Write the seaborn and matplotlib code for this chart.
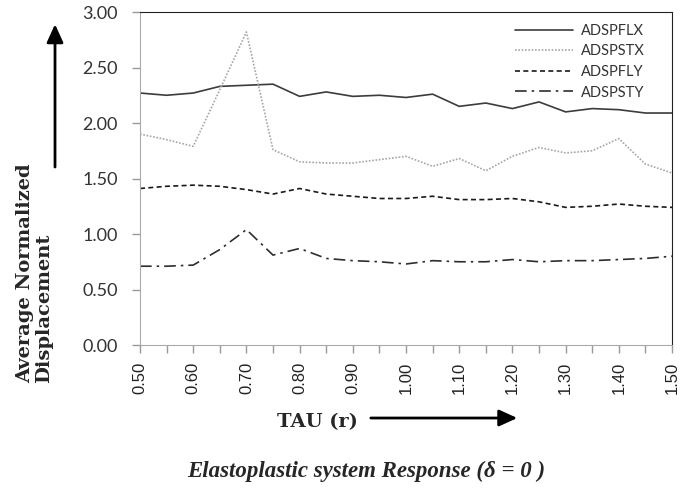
import numpy as np
import pandas as pd
import matplotlib.pyplot as plt
import seaborn as sns
from matplotlib.ticker import MultipleLocator

tau = [0.50, 0.55, 0.60, 0.65, 0.70, 0.75, 0.80, 0.85, 0.90, 0.95, 1.00,
       1.05, 1.10, 1.15, 1.20, 1.25, 1.30, 1.35, 1.40, 1.45, 1.50]
adspflx = [2.27, 2.25, 2.27, 2.33, 2.34, 2.35, 2.24, 2.28, 2.24, 2.25, 2.23,
           2.26, 2.15, 2.18, 2.13, 2.19, 2.10, 2.13, 2.12, 2.09, 2.09]
adspstx = [1.90, 1.85, 1.79, 2.30, 2.82, 1.76, 1.65, 1.64, 1.64, 1.67, 1.70,
           1.61, 1.68, 1.57, 1.70, 1.78, 1.73, 1.75, 1.86, 1.63, 1.55]
adspfly = [1.41, 1.43, 1.44, 1.43, 1.40, 1.36, 1.41, 1.36, 1.34, 1.32, 1.32,
           1.34, 1.31, 1.31, 1.32, 1.29, 1.24, 1.25, 1.27, 1.25, 1.24]
adspsty = [0.71, 0.71, 0.72, 0.86, 1.04, 0.81, 0.87, 0.78, 0.76, 0.75, 0.73,
           0.76, 0.75, 0.75, 0.77, 0.75, 0.76, 0.76, 0.77, 0.78, 0.80]
series = ["ADSPFLX", "ADSPSTX", "ADSPFLY", "ADSPSTY"]

df = pd.DataFrame({"TAU": tau * 4,
                   "value": adspflx + adspstx + adspfly + adspsty,
                   "series": [s for s in series for _ in tau]})

sns.set_style("white")
fig = plt.figure(figsize=(6.99, 4.88), dpi=100)
ax = fig.add_axes([0.2003, 0.2930, 0.7611, 0.6824])

palette = {"ADSPFLX": "#3c3c3c", "ADSPSTX": "#a6a6a6",
           "ADSPFLY": "#1a1a1a", "ADSPSTY": "#2e2e2e"}
dashes = {"ADSPFLX": "", "ADSPSTX": (1, 1), "ADSPFLY": (3, 2),
          "ADSPSTY": (7, 3, 1.5, 3)}
sns.lineplot(data=df, x="TAU", y="value", hue="series", style="series",
             hue_order=series, style_order=series, palette=palette,
             dashes=dashes, linewidth=1.2, ax=ax)

ax.set_xlim(0.5, 1.5)
ax.set_ylim(0, 3)
ax.xaxis.set_minor_locator(MultipleLocator(0.05))
ax.set_xticks(np.arange(0.5, 1.51, 0.1))
ax.set_xticklabels([f"{v:.2f}" for v in np.arange(0.5, 1.51, 0.1)], rotation=90,
                   family="Liberation Sans", fontsize=12, color="#222222")
ax.set_yticks(np.arange(0, 3.01, 0.5))
ax.set_yticklabels([f"{v:.2f}" for v in np.arange(0, 3.01, 0.5)],
                   family="Lato", fontsize=13, color="#333333")
ax.tick_params(axis="both", which="both", direction="out", color="#999999",
               length=6, width=1, bottom=True, left=True)
ax.tick_params(axis="x", which="both", pad=6)
ax.tick_params(axis="y", pad=10)
for side in ["left", "bottom"]:
    ax.spines[side].set_color("#aaaaaa")
for side in ["top", "right"]:
    ax.spines[side].set_color("#222222")
ax.set_xlabel("")
ax.set_ylabel("")

leg = ax.legend(loc="upper right", bbox_to_anchor=(0.959, 0.982), frameon=False,
                handlelength=4.0, handletextpad=0.5, borderaxespad=0,
                prop={"family": "Lato", "size": 10.5}, labelspacing=0.45)
for t in leg.get_texts():
    t.set_color("#333333")

arrow = dict(arrowstyle="-|>,head_length=1.1,head_width=0.5", color="black", lw=2)
fig.text(0.05, 0.215, "Average Normalized\nDisplacement", rotation=90,
         ha="center", va="bottom", multialignment="left",
         family="DejaVu Serif", fontweight="bold", fontsize=14,
         linespacing=1.05)
ax.annotate("", xy=(0.0787, 0.956), xytext=(0.0787, 0.652),
            xycoords="figure fraction", textcoords="figure fraction",
            arrowprops=arrow)
fig.text(0.454, 0.135, "TAU (r)", ha="center", va="center",
         family="DejaVu Serif", fontweight="bold", fontsize=14)
ax.annotate("", xy=(0.744, 0.1434), xytext=(0.5265, 0.1434),
            xycoords="figure fraction", textcoords="figure fraction",
            arrowprops=arrow)
fig.text(0.524, 0.034, "Elastoplastic system Response (δ = 0 )",
         ha="center", va="center", family="Liberation Serif",
         fontweight="bold", style="italic", fontsize=16.5)

fig.savefig("out.png", dpi=100)
